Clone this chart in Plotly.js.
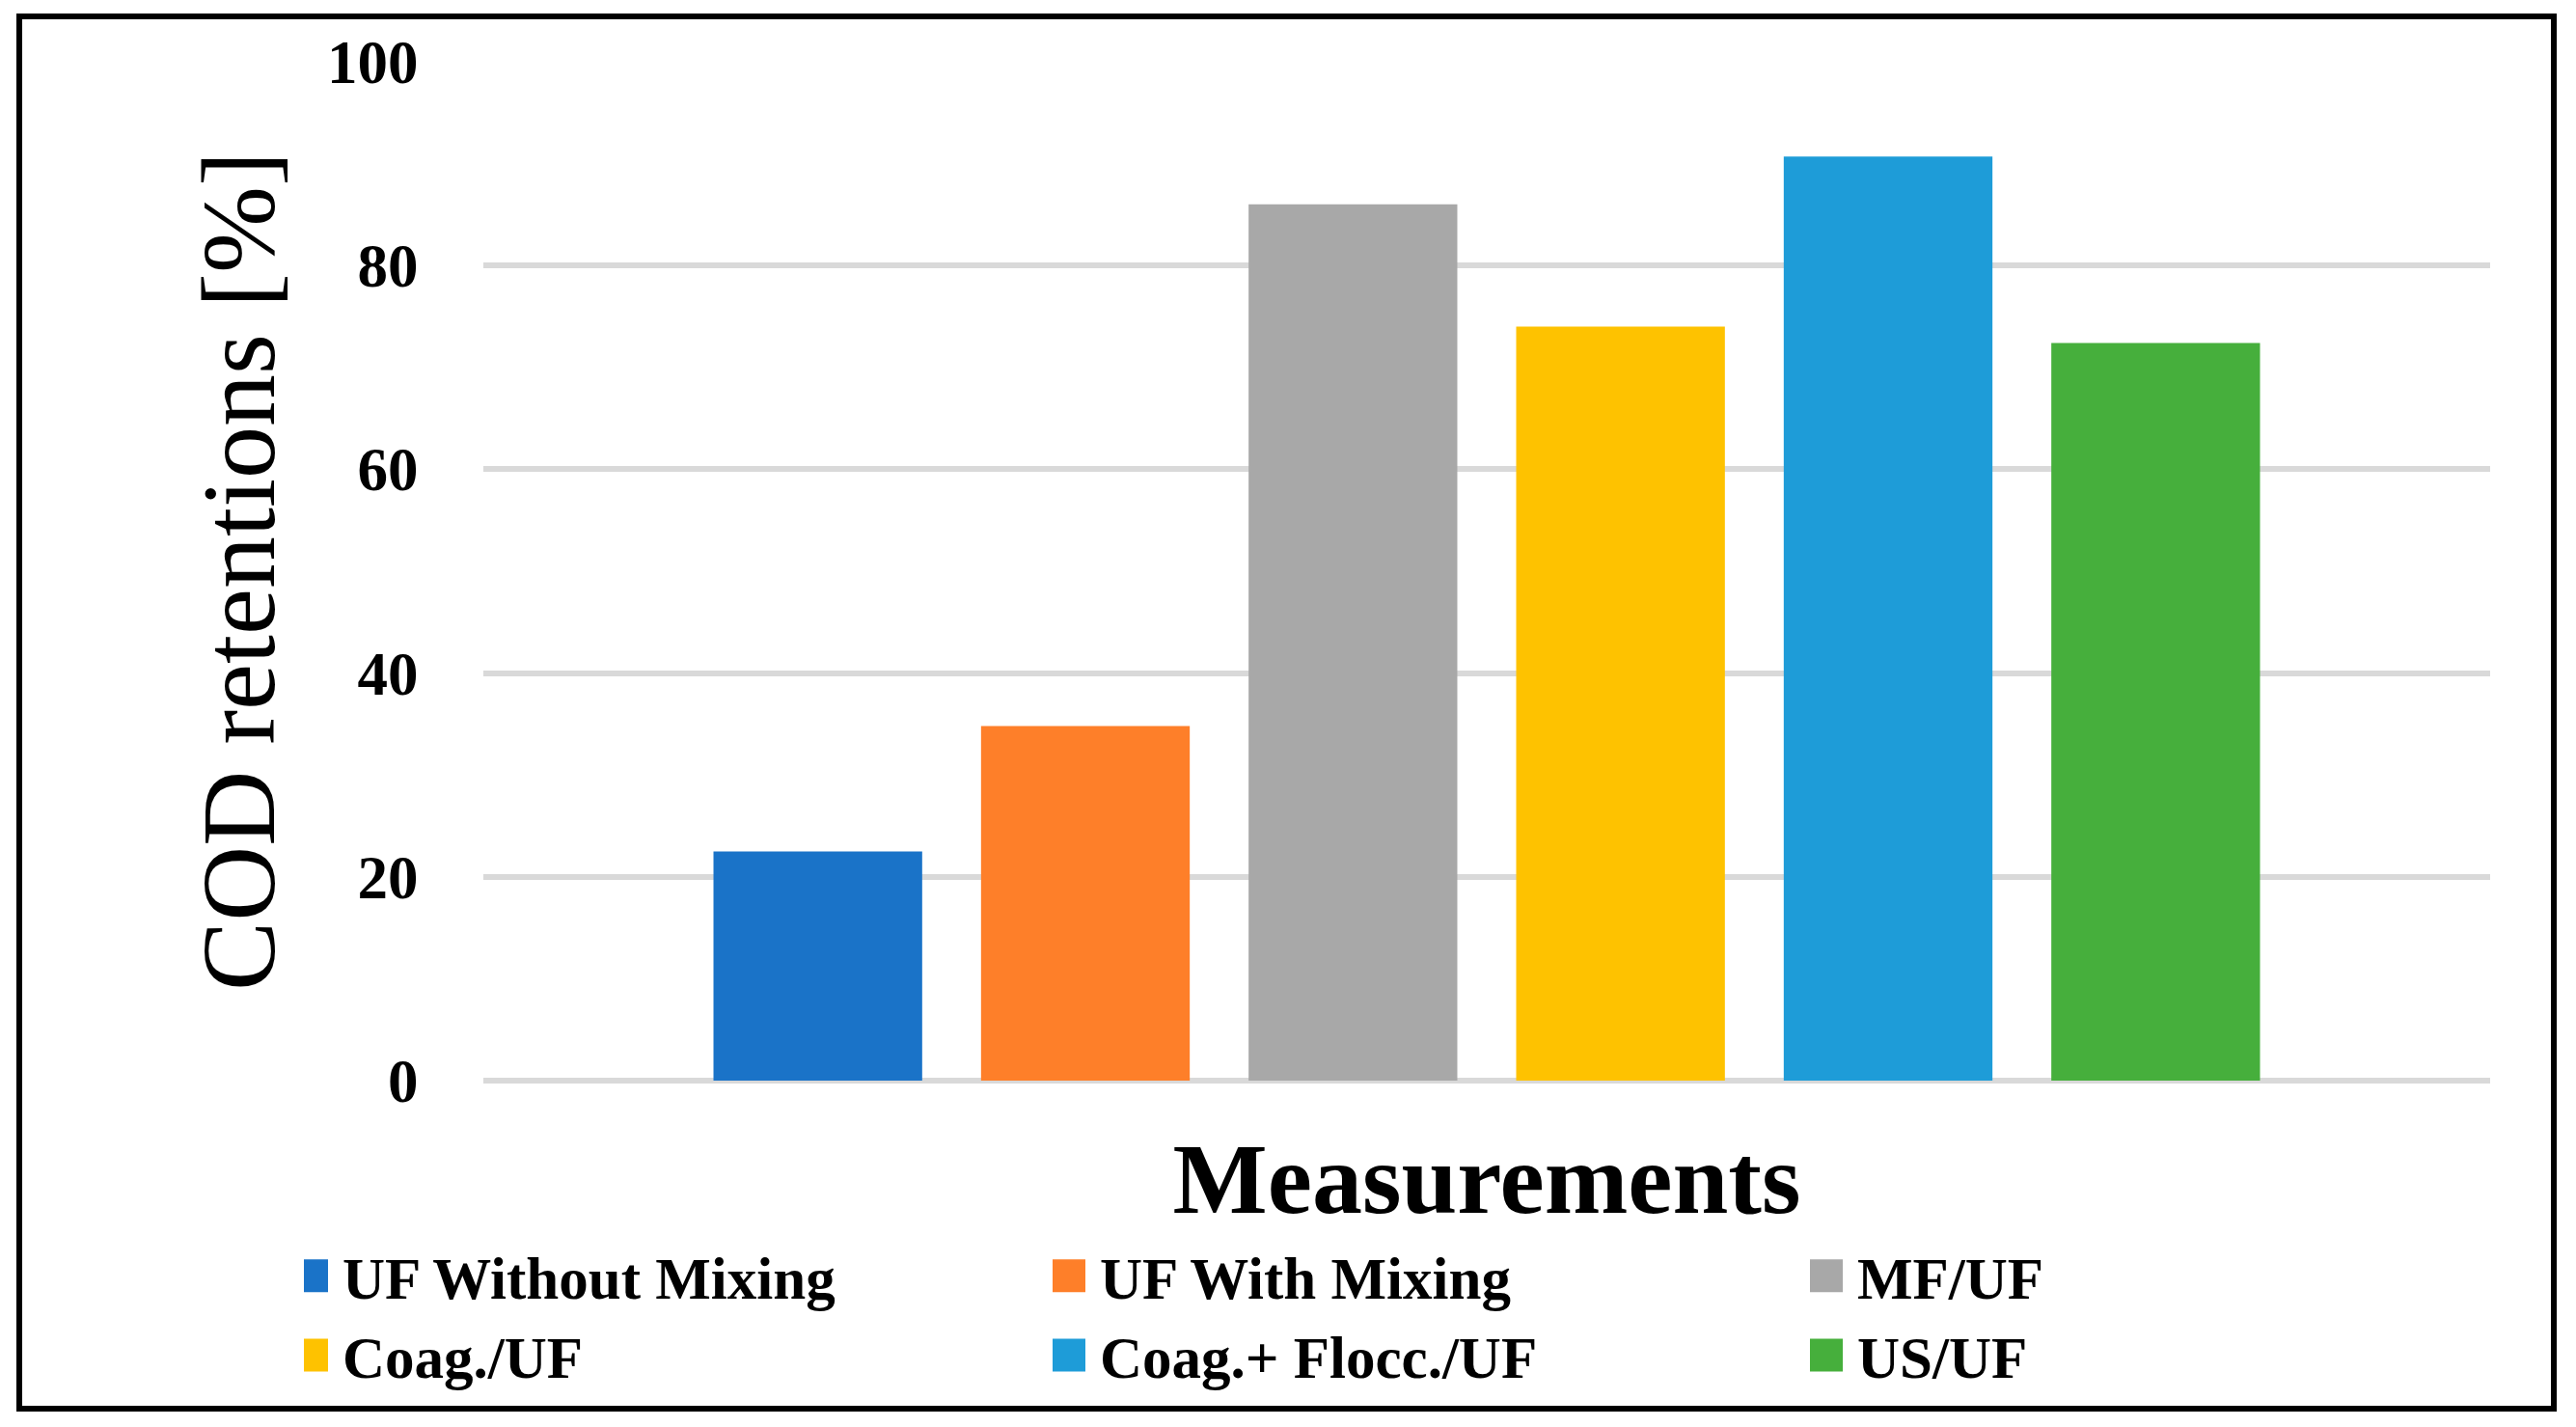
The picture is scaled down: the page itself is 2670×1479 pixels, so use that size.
<!DOCTYPE html>
<html>
<head>
<meta charset="utf-8">
<script src="https://cdn.plot.ly/plotly-3.0.1.min.js"></script>
<style>
  html, body { margin: 0; padding: 0; background: #ffffff; }
  #chart { width: 2670px; height: 1479px; }
</style>
</head>
<body>
<div id="chart"></div>
<script>
// ---- data ----
const category = ['Measurements'];
const seriesNames = ['UF Without Mixing', 'UF With Mixing', 'MF/UF', 'Coag./UF', 'Coag.+ Flocc./UF', 'US/UF'];
const codRetention = [22.5, 34.8, 86.0, 74.0, 90.7, 72.4];
const seriesColors = ['#1a73c8', '#fe7f29', '#a8a8a8', '#fec200', '#1e9cd8', '#46af3c'];
const yTicks = [0, 20, 40, 60, 80, 100];

// ---- layout constants ----
const W = 2670, H = 1479;
const M = { l: 501, r: 89, t: 64, b: 359 };
const plotW = W - M.l - M.r, plotH = H - M.t - M.b;
const px = x => (x - M.l) / plotW;
const py = y => (H - M.b - y) / plotH;

const traces = seriesNames.map((name, i) => ({
  type: 'bar',
  name: name,
  x: category,
  y: [codRetention[i]],
  marker: { color: seriesColors[i], line: { width: 0 } },
  hoverinfo: 'name+y'
}));

const layout = {
  width: W, height: H,
  margin: M,
  paper_bgcolor: '#ffffff',
  plot_bgcolor: '#ffffff',
  barmode: 'group',
  bargap: 0.2,
  bargroupgap: 0.22,
  font: { family: 'Liberation Serif', color: '#000000' },
  showlegend: true,
  legend: {
    orientation: 'h',
    xref: 'paper', yref: 'paper',
    x: px(317), xanchor: 'left',
    y: py(1276), yanchor: 'top',
    entrywidth: 740,
    font: { family: 'Liberation Serif', size: 61, color: '#000000', weight: 'bold' },
    traceorder: 'normal',
    bgcolor: 'rgba(0,0,0,0)'
  },
  xaxis: {
    type: 'category',
    showticklabels: false,
    ticks: '',
    showgrid: false,
    zeroline: false,
    showline: false,
    fixedrange: true,
    title: {
      text: 'Measurements',
      font: { family: 'Liberation Serif', size: 104, color: '#000000', weight: 'bold' },
      standoff: 64
    }
  },
  yaxis: {
    range: [0, 100],
    tickvals: yTicks,
    ticktext: yTicks.map(String),
    ticks: 'outside',
    ticklen: 54,
    tickcolor: 'rgba(0,0,0,0)',
    tickfont: { family: 'Liberation Serif', size: 63, color: '#000000', weight: 'bold' },
    showgrid: true,
    gridcolor: '#d9d9d9',
    gridwidth: 6,
    zeroline: true,
    zerolinecolor: '#d9d9d9',
    zerolinewidth: 6,
    showline: false,
    fixedrange: true,
    title: {
      text: 'COD retentions [%]',
      font: { family: 'Liberation Serif', size: 108, color: '#000000' },
      standoff: 18
    }
  },
  shapes: [{
    type: 'rect', xref: 'paper', yref: 'paper',
    x0: px(20), x1: px(2647), y0: py(1460), y1: py(17),
    line: { color: '#000000', width: 6 },
    fillcolor: 'rgba(0,0,0,0)',
    layer: 'above'
  }]
};

Plotly.newPlot('chart', traces, layout, { displayModeBar: false, staticPlot: true }).then(gd => {
  // enlarge legend swatches to match the reference's square markers
  gd.querySelectorAll('.legend .traces .legendpoints path').forEach(p => {
    p.setAttribute('d', 'M5,17H-29V-17H5Z');
  });
});
</script>
</body>
</html>
